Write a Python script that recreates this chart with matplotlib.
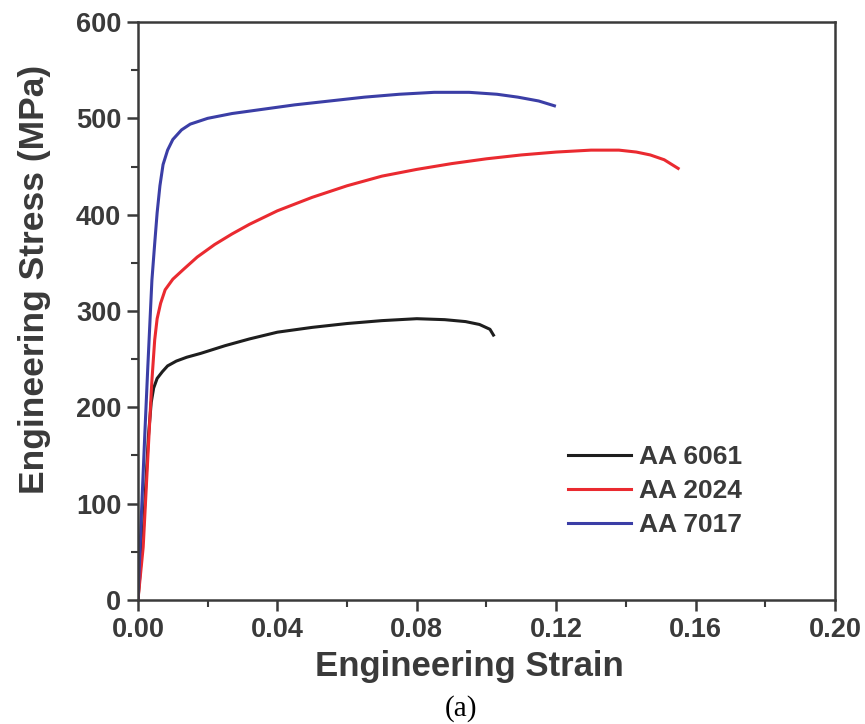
import matplotlib
matplotlib.use('Agg')
import matplotlib.pyplot as plt
from matplotlib.ticker import MultipleLocator

# Engineering strain / stress (MPa)
strain_6061 = [0, 0.0015, 0.003, 0.0038, 0.0045, 0.0055, 0.007, 0.0085, 0.011, 0.014, 0.018,
               0.025, 0.032, 0.040, 0.050, 0.060, 0.070, 0.080, 0.088, 0.094, 0.098, 0.101, 0.102]
stress_6061 = [0, 70, 170, 205, 220, 230, 237, 243, 248, 252, 256,
               264, 271, 278, 283, 287, 290, 292, 291, 289, 286, 281, 275]

strain_2024 = [0, 0.0015, 0.003, 0.004, 0.0048, 0.0055, 0.0065, 0.0078, 0.010, 0.013, 0.017,
               0.022, 0.027, 0.032, 0.040, 0.050, 0.060, 0.070, 0.080, 0.090, 0.100, 0.110,
               0.120, 0.130, 0.138, 0.143, 0.147, 0.151, 0.155]
stress_2024 = [0, 55, 160, 228, 270, 292, 308, 322, 333, 343, 356,
               369, 380, 390, 404, 418, 430, 440, 447, 453, 458, 462,
               465, 467, 467, 465, 462, 457, 448]

strain_7017 = [0, 0.001, 0.002, 0.0028, 0.004, 0.0048, 0.0055, 0.0063, 0.0072, 0.0085, 0.010,
               0.0125, 0.015, 0.020, 0.027, 0.035, 0.045, 0.055, 0.065, 0.075, 0.085, 0.095,
               0.103, 0.109, 0.115, 0.1195]
stress_7017 = [0, 90, 175, 240, 332, 370, 402, 430, 452, 467, 478,
               488, 494, 500, 505, 509, 514, 518, 522, 525, 527, 527,
               525, 522, 518, 513]

labels = ['AA 6061', 'AA 2024', 'AA 7017']
colors = ['#1e1e1e', '#ea2a30', '#3b3ea6']

plt.rcParams['font.family'] = ['Liberation Sans', 'DejaVu Sans']
ink = '#3a3a3a'

fig = plt.figure(figsize=(8.65, 7.24), dpi=100)
ax = fig.add_axes([0.1595, 0.1713, 0.8058, 0.7983])

series = [(strain_6061, stress_6061), (strain_2024, stress_2024), (strain_7017, stress_7017)]
for (x, y), lab, c in zip(series, labels, colors):
    ax.plot(x, y, color=c, lw=2.2, label=lab, solid_joinstyle='round')

ax.set_xlim(0, 0.20)
ax.set_ylim(0, 600)
ax.xaxis.set_major_locator(MultipleLocator(0.04))
ax.xaxis.set_minor_locator(MultipleLocator(0.02))
ax.yaxis.set_major_locator(MultipleLocator(100))
ax.yaxis.set_minor_locator(MultipleLocator(50))
ax.set_xticklabels([f'{v:.2f}' for v in ax.get_xticks()])

ax.tick_params(which='major', direction='out', length=8, width=1.8, colors=ink,
               labelsize=19.5, pad=4)
ax.tick_params(which='minor', direction='out', length=5, width=1.5, colors=ink)
for lbl in ax.get_xticklabels() + ax.get_yticklabels():
    lbl.set_fontweight('bold')
for sp in ax.spines.values():
    sp.set_linewidth(1.8)
    sp.set_color(ink)

ax.set_xlabel('Engineering Strain', fontsize=25, fontweight='bold', color=ink,
              labelpad=5, x=0.476)
ax.set_ylabel('Engineering Stress (MPa)', fontsize=25.5, fontweight='bold', color=ink,
              labelpad=18, y=0.554)

leg = ax.legend(loc='center left', bbox_to_anchor=(0.602, 0.188), frameon=False,
                fontsize=19, handlelength=2.4, handletextpad=0.3, labelspacing=0.38,
                borderaxespad=0)
for t in leg.get_texts():
    t.set_fontweight('bold')
    t.set_color(ink)

fig.text(0.533, 0.003, '(a)', fontsize=21, family=['Liberation Serif', 'DejaVu Serif'],
         ha='center', va='bottom')

fig.savefig('out.png', dpi=100)
